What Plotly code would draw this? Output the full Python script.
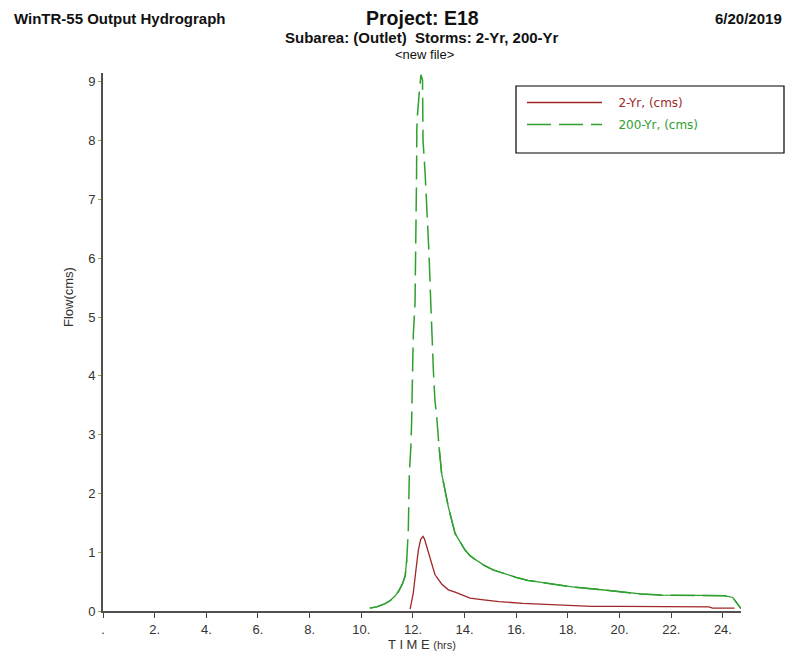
import plotly.graph_objects as go

# ---- data ----
t_200 = [10.33, 10.6, 10.9, 11.1, 11.3, 11.45, 11.6, 11.7, 11.76, 11.82, 11.86, 11.92, 11.95,
         11.97, 12.01, 12.08, 12.12, 12.14, 12.15, 12.17, 12.24, 12.31, 12.37, 12.39, 12.47,
         12.55, 12.62, 12.69, 12.73, 12.79, 12.85, 12.92, 13.01, 13.11, 13.37, 13.63, 14.01,
         14.21, 14.4, 14.74, 15.1, 15.52, 16.0, 16.45, 17.25, 18.17, 19.1, 19.89, 20.82,
         21.6, 22.8, 24.05, 24.38, 24.55, 24.7]
q_200 = [0.05, 0.07, 0.12, 0.17, 0.25, 0.34, 0.47, 0.6, 0.87, 1.38, 2.35, 2.8, 3.25,
         4.1, 4.66, 5.24, 6.26, 7.45, 8.2, 8.41, 8.8, 9.12, 9.03, 8.0, 7.45,
         6.82, 6.09, 5.24, 4.66, 4.1, 3.59, 3.3, 2.79, 2.34, 1.77, 1.32, 1.04,
         0.94, 0.88, 0.78, 0.70, 0.64, 0.57, 0.52, 0.47, 0.41, 0.37, 0.33, 0.29,
         0.27, 0.27, 0.26, 0.23, 0.12, 0.04]

t_2 = [11.89, 12.01, 12.1, 12.21, 12.3, 12.39, 12.45, 12.53, 12.66, 12.85, 13.11, 13.37,
       13.63, 14.0, 14.21, 14.74, 15.33, 16.26, 17.3, 18.9, 20.0, 23.46, 23.6, 24.45]
q_2 = [0.03, 0.3, 0.64, 1.04, 1.22, 1.27, 1.22, 1.1, 0.87, 0.62, 0.46, 0.36,
       0.32, 0.25, 0.22, 0.19, 0.16, 0.13, 0.11, 0.08, 0.08, 0.07, 0.05, 0.05]

x_tickvals = [0, 2, 4, 6, 8, 10, 12, 14, 16, 18, 20, 22, 24]
x_ticktext = [".", "2.", "4.", "6.", "8.", "10.", "12.", "14.", "16.", "18.", "20.", "22.", "24."]
y_tickvals = [0, 1, 2, 3, 4, 5, 6, 7, 8, 9]

RED = "#a02828"
GREEN = "#2ea02e"

# plot-area geometry in page pixels (page has an 8px body margin)
PX0, PX1, PY0, PY1 = 103, 741, 73, 611
def px(x):
    return (x - PX0) / (PX1 - PX0)
def py(y):
    return (PY1 - y) / (PY1 - PY0)

fig = go.Figure()
fig.add_trace(go.Scatter(
    x=t_2, y=q_2, mode="lines",
    name=f"<span style='color:{RED}'>&nbsp;&nbsp;&nbsp;2-Yr, (cms)</span>",
    line=dict(color=RED, width=1.3), legendgroup="a"))
fig.add_trace(go.Scatter(
    x=t_200, y=q_200, mode="lines",
    name=f"<span style='color:{GREEN}'>&nbsp;&nbsp;&nbsp;200-Yr, (cms)</span>",
    line=dict(color=GREEN, width=1.5, dash="24px,8px"), legendgroup="b"))
# short segments in the original render solid: overlay foot and tail solid
i_foot = t_200.index(11.76) + 1
i_tail = t_200.index(13.01)
fig.add_trace(go.Scatter(x=t_200[:i_foot], y=q_200[:i_foot], mode="lines", showlegend=False,
                         line=dict(color=GREEN, width=1.3), legendgroup="b", hoverinfo="skip"))
fig.add_trace(go.Scatter(x=t_200[i_tail:], y=q_200[i_tail:], mode="lines", showlegend=False,
                         line=dict(color=GREEN, width=1.3), legendgroup="b", hoverinfo="skip"))

fig.update_layout(
    width=788, height=648,
    margin=dict(l=PX0 - 8, r=788 - (PX1 - 8), t=PY0 - 8, b=648 - (PY1 - 8)),
    paper_bgcolor="white", plot_bgcolor="white",
    font=dict(family="Liberation Sans, Arial", color="#222"),
    showlegend=True,
    legend=dict(x=px(516 + 6), y=py(88), xanchor="left", yanchor="top",
                bgcolor="rgba(0,0,0,0)", borderwidth=0,
                font=dict(family="DejaVu Sans", size=12),
                itemwidth=75, tracegroupgap=3, traceorder="grouped"),
    shapes=[dict(type="rect", xref="paper", yref="paper",
                 x0=px(516), x1=px(784), y0=py(153), y1=py(86),
                 line=dict(color="black", width=1.2), fillcolor="rgba(0,0,0,0)")],
    xaxis=dict(range=[0, 24.7], tickvals=x_tickvals, ticktext=x_ticktext,
               showgrid=False, zeroline=False, showline=True, linecolor="#505050", linewidth=2,
               ticks="outside", ticklen=5, tickcolor="#444", tickwidth=1,
               tickfont=dict(size=13, color="#333"),
               title=dict(text="T I M E <span style='font-size:11px'>(hrs)</span>",
                          font=dict(size=13, color="#333"), standoff=3),
               automargin=False),
    yaxis=dict(range=[0, 9.15], tickvals=y_tickvals,
               showgrid=False, zeroline=False, showline=True, linecolor="#505050", linewidth=2,
               ticks="outside", ticklen=3, tickcolor="#b0a040", tickwidth=1,
               tickfont=dict(size=13, color="#333"),
               automargin=False),
    annotations=[
        dict(text="Flow(cms)", xref="paper", yref="paper", textangle=-90,
             x=px(68), y=py(297), xanchor="center", yanchor="middle",
             showarrow=False, font=dict(size=13, color="#333")),
        dict(text="<b>WinTR-55 Output Hydrograph</b>", xref="paper", yref="paper",
             x=px(12), y=py(18), xanchor="left", yanchor="middle",
             showarrow=False, font=dict(size=15, color="#111")),
        dict(text="<b>Project: E18</b>", xref="paper", yref="paper",
             x=px(423), y=py(18), xanchor="center", yanchor="middle",
             showarrow=False, font=dict(size=19.5, color="#111")),
        dict(text="<b>6/20/2019</b>", xref="paper", yref="paper",
             x=px(784), y=py(18), xanchor="right", yanchor="middle",
             showarrow=False, font=dict(size=15, color="#111")),
        dict(text="<b>Subarea: (Outlet)&nbsp; Storms: 2-Yr, 200-Yr</b>", xref="paper", yref="paper",
             x=px(422), y=py(37), xanchor="center", yanchor="middle",
             showarrow=False, font=dict(size=15, color="#111")),
        dict(text="&lt;new file&gt;", xref="paper", yref="paper",
             x=px(424), y=py(54), xanchor="center", yanchor="middle",
             showarrow=False, font=dict(size=13, color="#111")),
    ],
)

fig.write_html("out.html")
